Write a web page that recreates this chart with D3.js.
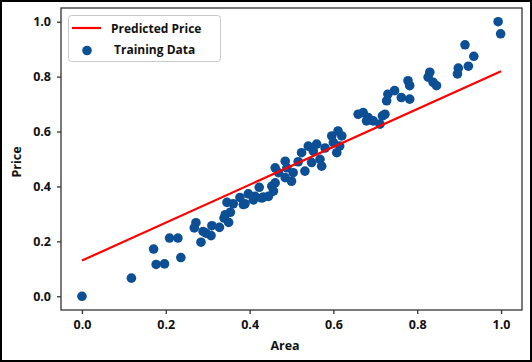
<!DOCTYPE html>
<html>
<head>
<meta charset="utf-8">
<script src="https://cdn.jsdelivr.net/npm/d3@7"></script>
<style>
	body { margin: 0; background: #fff; }
	text { font-family: "Open Sans", "DejaVu Sans", sans-serif; font-weight: 700; fill: #111; }
</style>
</head>
<body>
<script>
// data
const areas = [0.000, 0.118, 0.171, 0.177, 0.197, 0.209, 0.229, 0.236, 0.272, 0.268,
	0.284, 0.289, 0.296, 0.310, 0.308, 0.328, 0.346, 0.339, 0.350, 0.354,
	0.342, 0.361, 0.377, 0.389, 0.397, 0.385, 0.409, 0.413, 0.423, 0.433,
	0.429, 0.445, 0.453, 0.461, 0.457, 0.461, 0.469, 0.485, 0.489, 0.485,
	0.504, 0.500, 0.516, 0.524, 0.532, 0.540, 0.552, 0.560, 0.548, 0.568,
	0.572, 0.580, 0.596, 0.611, 0.600, 0.615, 0.620, 0.608, 0.659, 0.671,
	0.683, 0.679, 0.695, 0.711, 0.717, 0.723, 0.727, 0.730, 0.746, 0.762,
	0.782, 0.778, 0.782, 0.830, 0.826, 0.838, 0.846, 0.896, 0.898, 0.914,
	0.922, 0.935, 0.993, 0.999];
const prices = [0.000, 0.066, 0.172, 0.116, 0.118, 0.212, 0.212, 0.141, 0.268, 0.249,
	0.197, 0.236, 0.230, 0.257, 0.221, 0.251, 0.342, 0.285, 0.269, 0.306,
	0.297, 0.337, 0.360, 0.337, 0.373, 0.334, 0.351, 0.364, 0.397, 0.361,
	0.358, 0.364, 0.401, 0.413, 0.383, 0.468, 0.450, 0.492, 0.468, 0.432,
	0.450, 0.419, 0.490, 0.523, 0.456, 0.547, 0.529, 0.554, 0.487, 0.499,
	0.474, 0.540, 0.584, 0.602, 0.560, 0.547, 0.584, 0.523, 0.663, 0.669,
	0.651, 0.639, 0.639, 0.627, 0.657, 0.663, 0.712, 0.736, 0.749, 0.724,
	0.718, 0.785, 0.767, 0.816, 0.798, 0.779, 0.767, 0.810, 0.831, 0.916,
	0.838, 0.874, 1.000, 0.956];
const lineAreas = [0.0, 1.0];
const linePrices = [0.13, 0.82];
const tickValues = [0.0, 0.2, 0.4, 0.6, 0.8, 1.0];
const legendLabels = ["Predicted Price", "Training Data"];

const width = 532, height = 362,
	  margin = {top: 8, right: 10, bottom: 52, left: 61},
	  dotColor = "#0d4f94";

const svg = d3.select("body")
	.append("svg")
	.attr("width", width)
	.attr("height", height);

// outer frame
svg.append("rect")
	.attr("x", 1).attr("y", 1)
	.attr("width", width - 2).attr("height", height - 2)
	.attr("fill", "#fff")
	.attr("stroke", "#000")
	.attr("stroke-width", 2);

const x = d3.scaleLinear().domain([-0.05, 1.05]).range([margin.left, width - margin.right]),
	  y = d3.scaleLinear().domain([-0.05, 1.05]).range([height - margin.bottom, margin.top]);

// scatter
const points = areas.map((a, i) => ({a: a, p: prices[i]}));
svg.append("g")
	.selectAll("circle")
	.data(points)
	.enter()
	.append("circle")
	.attr("cx", d => x(d.a))
	.attr("cy", d => y(d.p))
	.attr("r", 4.8)
	.attr("fill", dotColor);

// regression line
const line = d3.line().x(d => x(d[0])).y(d => y(d[1]));
svg.append("path")
	.datum(lineAreas.map((a, i) => [a, linePrices[i]]))
	.attr("d", line)
	.attr("fill", "none")
	.attr("stroke", "#ff0000")
	.attr("stroke-width", 2.2);

// axes
const xAxis = svg.append("g")
	.attr("transform", "translate(0," + (height - margin.bottom) + ")")
	.call(d3.axisBottom(x).tickValues(tickValues).tickFormat(d3.format(".1f")).tickSize(4).tickPadding(6));
const yAxis = svg.append("g")
	.attr("transform", "translate(" + margin.left + ",0)")
	.call(d3.axisLeft(y).tickValues(tickValues).tickFormat(d3.format(".1f")).tickSize(4).tickPadding(6));

[xAxis, yAxis].forEach(g => {
	g.select(".domain").remove();
	g.selectAll(".tick line").attr("stroke", "#333").attr("stroke-width", 1.3);
	g.selectAll(".tick text").attr("font-size", "12.5px").attr("fill", "#111");
});

// spines
svg.append("rect")
	.attr("x", margin.left).attr("y", margin.top)
	.attr("width", width - margin.left - margin.right)
	.attr("height", height - margin.top - margin.bottom)
	.attr("fill", "none")
	.attr("stroke", "#333")
	.attr("stroke-width", 1.3);

// axis titles
svg.append("text")
	.attr("x", 285).attr("y", 350)
	.attr("text-anchor", "middle")
	.attr("font-size", "12.5px")
	.text("Area");
svg.append("text")
	.attr("transform", "translate(21,162) rotate(-90)")
	.attr("text-anchor", "middle")
	.attr("font-size", "12.5px")
	.text("Price");

// legend
const legend = svg.append("g");
legend.append("rect")
	.attr("x", 68.5).attr("y", 15.5)
	.attr("width", 152).attr("height", 46)
	.attr("rx", 3)
	.attr("fill", "#fff")
	.attr("fill-opacity", 0.8)
	.attr("stroke", "#c8c8c8");
legend.append("line")
	.attr("x1", 72).attr("x2", 101)
	.attr("y1", 28).attr("y2", 28)
	.attr("stroke", "#ff0000")
	.attr("stroke-width", 2.2);
legend.append("circle")
	.attr("cx", 87).attr("cy", 50.5)
	.attr("r", 4.8)
	.attr("fill", dotColor);
legend.selectAll(".label")
	.data(legendLabels)
	.enter()
	.append("text")
	.attr("class", "label")
	.attr("x", (d, i) => i === 0 ? 111 : 114)
	.attr("y", (d, i) => i === 0 ? 32.5 : 54)
	.attr("font-size", "12px")
	.text(d => d);
</script>
</body>
</html>
